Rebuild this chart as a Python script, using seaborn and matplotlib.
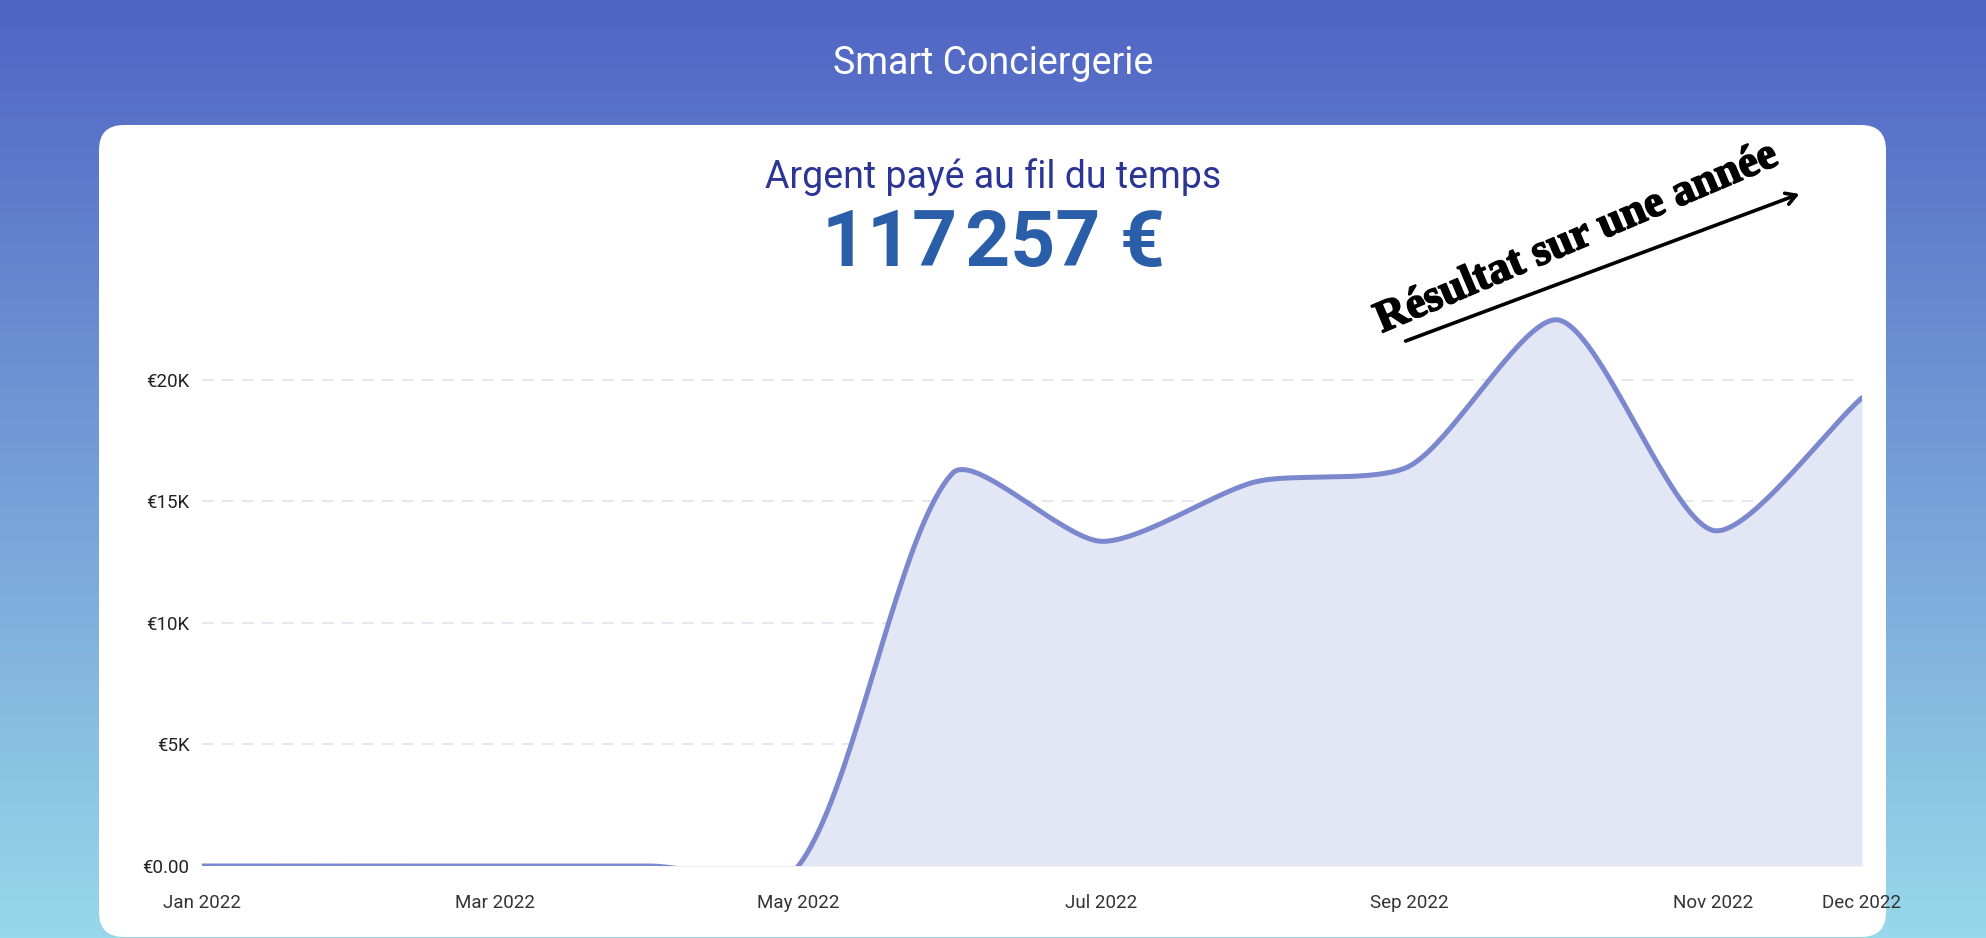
"""
Smart Conciergerie: money paid over 2022, smooth area line on a gradient card.
"""

import numpy as np
import pandas as pd
import seaborn as sns
import matplotlib.pyplot as plt
import matplotlib.patheffects as pe
from matplotlib.patches import FancyBboxPatch

# monthly amounts paid (EUR)
months = ["2022-01-01", "2022-02-01", "2022-03-01", "2022-04-01",
          "2022-05-01", "2022-06-01", "2022-07-01", "2022-08-01",
          "2022-09-01", "2022-10-01", "2022-11-01", "2022-12-01"]
paid = [0, 0, 0, 0, 0, 16150, 13350, 15800, 16450, 22450, 13800, 19257]

tick_months = ["2022-01-01", "2022-03-01", "2022-05-01", "2022-07-01",
               "2022-09-01", "2022-11-01", "2022-12-01"]
tick_labels = ["Jan 2022", "Mar 2022", "May 2022", "Jul 2022",
               "Sep 2022", "Nov 2022", "Dec 2022"]
y_ticks = [0, 5000, 10000, 15000, 20000]
y_labels = ["€0.00", "€5K", "€10K", "€15K", "€20K"]

title = "Smart Conciergerie"
subtitle = "Argent payé au fil du temps"
total = "117\u200a257 €"
note = "Résultat sur une année"

LINE = "#7b88ce"
FILL = "#e3e6f5"


def spline_curve(x, y, tension=0.25, xs=5.0, ys=0.0243, n=40):
    """Chart.js style bezier smoothing, control points measured in pixel space."""
    px = np.asarray(x, float) * xs
    py = np.asarray(y, float) * ys
    k = len(px)
    cin, cout = [], []
    for i in range(k):
        p0 = (px[max(i - 1, 0)], py[max(i - 1, 0)])
        p1 = (px[i], py[i])
        p2 = (px[min(i + 1, k - 1)], py[min(i + 1, k - 1)])
        d01 = np.hypot(p1[0] - p0[0], p1[1] - p0[1])
        d12 = np.hypot(p2[0] - p1[0], p2[1] - p1[1])
        s = d01 + d12 if d01 + d12 else 1
        fa, fb = tension * d01 / s, tension * d12 / s
        cin.append((p1[0] - fa * (p2[0] - p0[0]), p1[1] - fa * (p2[1] - p0[1])))
        cout.append((p1[0] + fb * (p2[0] - p0[0]), p1[1] + fb * (p2[1] - p0[1])))
    t = np.linspace(0, 1, n)[:, None]
    segs = []
    for i in range(k - 1):
        a = np.array([px[i], py[i]])
        b = np.array(cout[i])
        c = np.array(cin[i + 1])
        d = np.array([px[i + 1], py[i + 1]])
        seg = (1 - t) ** 3 * a + 3 * (1 - t) ** 2 * t * b + 3 * (1 - t) * t ** 2 * c + t ** 3 * d
        segs.append(seg if i == 0 else seg[1:])
    pts = np.vstack(segs)
    return pts[:, 0] / xs, pts[:, 1] / ys


def main():
    sns.set_theme(style="white")
    plt.rcParams["font.family"] = ["Roboto", "DejaVu Sans"]

    fig = plt.figure(figsize=(19.86, 9.38), dpi=100)

    # gradient background + white card
    bg = fig.add_axes([0, 0, 1, 1], zorder=-10)
    grad = np.linspace(0, 1, 256)[:, None]
    top = np.array([80, 100, 196]) / 255
    bottom = np.array([152, 216, 234]) / 255
    img = top + (bottom - top) * grad[..., None]
    bg.imshow(img.repeat(2, axis=1), extent=[0, 1986, 0, 938], aspect="auto", origin="upper")
    bg.add_patch(FancyBboxPatch((99, 1), 1787, 812,
                                boxstyle="round,pad=0,rounding_size=25",
                                fc="white", ec="none"))
    bg.set_xlim(0, 1986)
    bg.set_ylim(0, 938)
    bg.axis("off")

    fig.text(993 / 1986, 875 / 938, title, color="white", fontsize=27,
             ha="center", va="center")
    fig.text(993 / 1986, 761 / 938, subtitle, color="#2b3595", fontsize=27,
             ha="center", va="center")
    fig.text(993 / 1986, 693 / 938, total, color="#2b5ea8", fontsize=56.5,
             fontweight="bold", ha="center", va="center",
             family=["Roboto", "DejaVu Sans"])

    ax = fig.add_axes([202 / 1986, 72 / 938, 1660 / 1986, 608 / 938])
    ax.set_facecolor("none")

    dates = pd.to_datetime(months)
    x0 = dates[0]
    days = (dates - x0).days.values
    sx, sy = spline_curve(days, paid)
    df = pd.DataFrame({"date": x0 + pd.to_timedelta(sx, unit="D"), "paid": sy})

    ax.fill_between(df["date"], 0, df["paid"], color=FILL, lw=0, zorder=2)
    sns.lineplot(data=df, x="date", y="paid", sort=False, estimator=None,
                 color=LINE, lw=3.6, ax=ax, zorder=3)

    ax.set_xlim(dates[0], dates[-1])
    ax.set_ylim(0, 25000)
    ax.set_yticks(y_ticks)
    ax.set_yticklabels(y_labels)
    ax.set_xticks(pd.to_datetime(tick_months))
    ax.set_xticklabels(tick_labels)
    ax.tick_params(axis="y", length=0, pad=9, labelsize=13.5, labelcolor="#222222")
    ax.tick_params(axis="x", length=0, pad=20, labelsize=13.5, labelcolor="#333333")
    for yv in y_ticks[1:]:
        ax.axhline(yv, color="#dfe3ea", lw=1.2, ls=(0, (7, 5)), zorder=1)
    ax.set_xlabel("")
    ax.set_ylabel("")
    sns.despine(ax=ax, left=True, bottom=True)

    # hand-drawn style annotation
    fig.text(1577 / 1986, 700 / 938, note, fontsize=32, fontweight="bold",
             family=["Liberation Serif", "DejaVu Serif"], rotation=23,
             ha="center", va="center", color="black",
             path_effects=[pe.withStroke(linewidth=1.2, foreground="black")])
    bg.annotate("", xy=(1802, 745), xytext=(1403, 596),
                arrowprops=dict(arrowstyle="->,head_length=0.6,head_width=0.35",
                                lw=2.6, color="black"))

    fig.savefig("out.png", dpi=100)


if __name__ == "__main__":
    main()
